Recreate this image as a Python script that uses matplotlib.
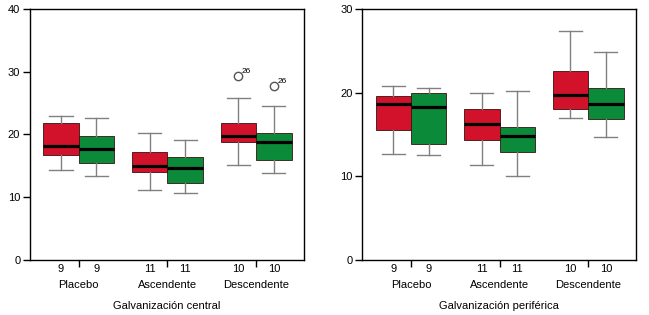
import matplotlib.pyplot as plt
from matplotlib.transforms import blended_transform_factory

plt.rcParams['font.family'] = ['Liberation Sans', 'DejaVu Sans']

groups = ['Placebo', 'Ascendente', 'Descendente']
counts = [9, 9, 11, 11, 10, 10]

# (whislo, q1, med, q3, whishi), red then green per group
central = [
    (14.3, 16.7, 18.2, 21.9, 23.0),
    (13.4, 15.4, 17.7, 19.8, 22.7),
    (11.1, 14.1, 15.0, 17.2, 20.2),
    (10.7, 12.3, 14.6, 16.4, 19.1),
    (15.2, 18.8, 19.8, 21.8, 25.8),
    (13.8, 15.9, 18.8, 20.2, 24.6),
]
central_fliers = [[], [], [], [], [29.3], [27.8]]

periferica = [
    (12.7, 15.5, 18.7, 19.6, 20.8),
    (12.6, 13.9, 18.3, 20.0, 20.5),
    (11.3, 14.3, 16.2, 18.0, 19.9),
    (10.0, 12.9, 14.8, 15.9, 20.2),
    (17.0, 18.1, 19.7, 22.6, 27.4),
    (14.7, 16.9, 18.7, 20.5, 24.8),
]
periferica_fliers = [[], [], [], [], [], []]

red = '#d2112b'
green = '#0b8a3a'


def draw(ax, data, fliers, ymax, yticks, xlabel):
    stats = []
    for (lo, q1, med, q3, hi), fl in zip(data, fliers):
        stats.append(dict(whislo=lo, q1=q1, med=med, q3=q3, whishi=hi, fliers=fl))
    pos = []
    for g in range(3):
        pos += [g + 1 - 0.2, g + 1 + 0.2]
    bp = ax.bxp(stats, positions=pos, widths=0.4, patch_artist=True,
                showfliers=True,
                boxprops=dict(linewidth=0.6, edgecolor='#3a1010'),
                medianprops=dict(color='black', linewidth=2.3),
                whiskerprops=dict(color='#808080', linewidth=1.0),
                capprops=dict(color='#808080', linewidth=1.0),
                capwidths=0.26,
                flierprops=dict(marker='o', markerfacecolor='white',
                                markeredgecolor='#555555', markersize=6))
    for i, b in enumerate(bp['boxes']):
        b.set_facecolor(red if i % 2 == 0 else green)
    for i, fl in enumerate(fliers):
        for v in fl:
            ax.text(pos[i] + 0.04, v + 0.1, '26', fontsize=6, ha='left', va='bottom')

    ax.set_xlim(0.45, 3.54)
    ax.set_ylim(0, ymax)
    ax.set_yticks(yticks)
    ax.set_xticks([1, 2, 3])
    ax.set_xticklabels([])
    ax.tick_params(direction='out', length=5, width=1, labelsize=8, pad=2)
    for s in ax.spines.values():
        s.set_linewidth(1.0)

    tr = blended_transform_factory(ax.transData, ax.transAxes)
    for p, c in zip(pos, counts):
        ax.text(p, -0.036, str(c), transform=tr, ha='center', va='center', fontsize=8)
    for g, name in enumerate(groups):
        ax.text(g + 1, -0.1, name, transform=tr, ha='center', va='center', fontsize=8)
    ax.text(0.5, -0.185, xlabel, transform=ax.transAxes, ha='center', va='center', fontsize=8)


fig = plt.figure(figsize=(6.49, 3.15), dpi=100)
ax1 = fig.add_axes([0.0462, 0.1746, 0.4222, 0.797])
ax2 = fig.add_axes([0.5582, 0.1746, 0.4217, 0.797])

draw(ax1, central, central_fliers, 40, [0, 10, 20, 30, 40], 'Galvanización central')
draw(ax2, periferica, periferica_fliers, 30, [0, 10, 20, 30], 'Galvanización periférica')

fig.savefig('out.png', dpi=100)
